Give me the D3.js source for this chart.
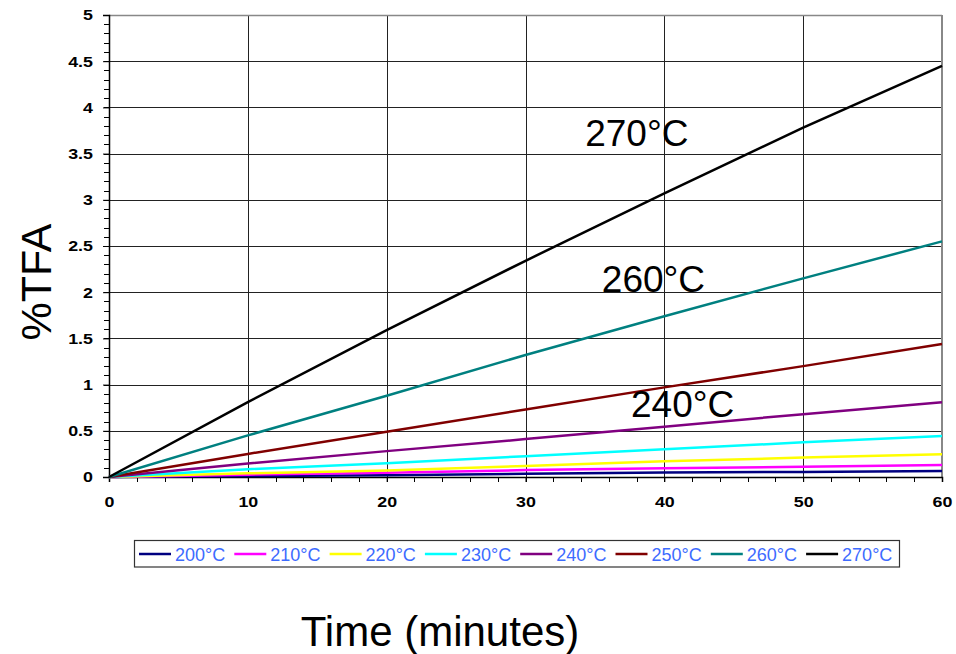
<!DOCTYPE html>
<html>
<head>
<meta charset="utf-8">
<script src="https://cdn.jsdelivr.net/npm/d3@7"></script>
<style>
  html, body { margin: 0; padding: 0; background: #fff; }
  svg { display: block; font-family: "Liberation Sans", Arial, sans-serif; }
</style>
</head>
<body>
<svg id="chart" width="956" height="654"></svg>
<script>
// Sampling times (minutes)
const times = [0, 10, 20, 30, 40, 50, 60];

// %TFA at each temperature
const series200 = [0, 0.01, 0.02, 0.035, 0.05, 0.055, 0.065];
const series210 = [0, 0.025, 0.045, 0.075, 0.095, 0.11, 0.13];
const series220 = [0, 0.04, 0.07, 0.12, 0.17, 0.21, 0.245];
const series230 = [0, 0.085, 0.15, 0.225, 0.30, 0.375, 0.445];
const series240 = [0, 0.145, 0.28, 0.41, 0.545, 0.68, 0.81];
const series250 = [0, 0.25, 0.49, 0.73, 0.97, 1.20, 1.44];
const series260 = [0, 0.45, 0.88, 1.32, 1.74, 2.15, 2.55];
const series270 = [0, 0.81, 1.59, 2.34, 3.07, 3.78, 4.45];

const seriesNames = ["200°C", "210°C", "220°C", "230°C", "240°C", "250°C", "260°C", "270°C"];
const seriesColors = ["#000080", "#ff00ff", "#ffff00", "#00ffff", "#800080", "#800000", "#008080", "#000000"];
const seriesValues = [series200, series210, series220, series230, series240, series250, series260, series270];

const xTicks = [0, 10, 20, 30, 40, 50, 60];
const yTicks = [0, 0.5, 1, 1.5, 2, 2.5, 3, 3.5, 4, 4.5, 5];

// Labels written on the plot next to three of the curves
const curveLabels = [
  { text: "270°C", x: 34.3, y: 3.58 },
  { text: "260°C", x: 35.5, y: 2.0 },
  { text: "240°C", x: 37.6, y: 0.65 }
];

const svg = d3.select("#chart");
const plotL = 109, plotR = 942, plotT = 15, plotB = 477;

const x = d3.scaleLinear().domain([0, 60]).range([plotL, plotR]);
const y = d3.scaleLinear().domain([0, 5]).range([plotB, plotT]);

// Widen text horizontally (the chart's fonts are drawn slightly stretched)
function widen(sel, k) {
  sel.each(function () {
    const w = this.getComputedTextLength();
    d3.select(this).attr("textLength", w * k).attr("lengthAdjust", "spacingAndGlyphs");
  });
}

// Gridlines
const g = svg.append("g");
g.selectAll("line.hg").data(yTicks.filter(d => d > 0 && d < 5)).join("line")
  .attr("x1", plotL).attr("x2", plotR)
  .attr("y1", d => Math.round(y(d)) + 0.5).attr("y2", d => Math.round(y(d)) + 0.5)
  .attr("stroke", "#222").attr("stroke-width", 1);
g.selectAll("line.vg").data(xTicks.filter(d => d > 0 && d < 60)).join("line")
  .attr("y1", plotT).attr("y2", plotB)
  .attr("x1", d => Math.round(x(d)) + 0.5).attr("x2", d => Math.round(x(d)) + 0.5)
  .attr("stroke", "#222").attr("stroke-width", 1);

// Frame top and right
g.append("line").attr("x1", plotL).attr("x2", plotR).attr("y1", plotT + 0.5).attr("y2", plotT + 0.5)
  .attr("stroke", "#888").attr("stroke-width", 1.5);
g.append("line").attr("x1", plotR).attr("x2", plotR).attr("y1", plotT).attr("y2", plotB)
  .attr("stroke", "#888").attr("stroke-width", 2);

// Minor ticks
const yMinor = d3.range(0, 5.0001, 0.1);
g.selectAll("line.ym").data(yMinor).join("line")
  .attr("x1", plotL - 5).attr("x2", plotL)
  .attr("y1", d => Math.round(y(d)) + 0.5).attr("y2", d => Math.round(y(d)) + 0.5)
  .attr("stroke", "#000");
const xMinor = d3.range(0, 60.001, 2);
g.selectAll("line.xm").data(xMinor).join("line")
  .attr("y1", plotB).attr("y2", plotB + 5)
  .attr("x1", d => Math.round(x(d)) + 0.5).attr("x2", d => Math.round(x(d)) + 0.5)
  .attr("stroke", "#000");

// Axes
const yAxis = svg.append("g").attr("transform", `translate(${plotL},0)`)
  .call(d3.axisLeft(y).tickValues(yTicks).tickSize(6).tickPadding(10).tickFormat(d => d3.format("")(d)));
const xAxis = svg.append("g").attr("transform", `translate(0,${plotB})`)
  .call(d3.axisBottom(x).tickValues(xTicks).tickSize(5).tickPadding(14));
[yAxis, xAxis].forEach(a => {
  a.select(".domain").attr("stroke", "#000").attr("stroke-width", 1.5);
  a.selectAll("text").attr("font-family", "Liberation Sans, Arial, sans-serif")
    .attr("font-size", 15.5).attr("font-weight", "bold").attr("fill", "#000");
  widen(a.selectAll("text"), 1.15);
});

// Curves
const line = d3.line().x((d, i) => x(times[i])).y(d => y(d));
svg.append("g").selectAll("path").data(seriesValues).join("path")
  .attr("d", d => line(d))
  .attr("fill", "none")
  .attr("stroke", (d, i) => seriesColors[i])
  .attr("stroke-width", 2.5)
  .attr("stroke-linejoin", "round");

// Curve labels
svg.append("g").selectAll("text").data(curveLabels).join("text")
  .attr("x", d => x(d.x)).attr("y", d => y(d.y))
  .attr("font-size", 37).attr("fill", "#000")
  .text(d => d.text);

// Axis titles
svg.append("text").attr("x", 440).attr("y", 646).attr("text-anchor", "middle")
  .attr("font-size", 42).attr("fill", "#000").text("Time (minutes)");
svg.append("text").attr("transform", "translate(51,282) rotate(-90)")
  .attr("text-anchor", "middle").attr("font-size", 43).attr("fill", "#000").text("%TFA");

// Legend
const lg = svg.append("g");
lg.append("rect").attr("x", 134.5).attr("y", 540.5).attr("width", 765).attr("height", 26.5)
  .attr("fill", "#fff").attr("stroke", "#333").attr("stroke-width", 1.2);
const items = lg.selectAll("g.item").data(seriesNames).join("g")
  .attr("transform", (d, i) => `translate(${139 + i * 95.3},554)`);
items.append("line").attr("x1", 0).attr("x2", 32).attr("y1", 0).attr("y2", 0)
  .attr("stroke", (d, i) => seriesColors[i]).attr("stroke-width", 2.5);
items.append("text").attr("x", 36).attr("y", 6.5).attr("font-size", 18).attr("fill", "#3d6bff")
  .text(d => d);
</script>
</body>
</html>
